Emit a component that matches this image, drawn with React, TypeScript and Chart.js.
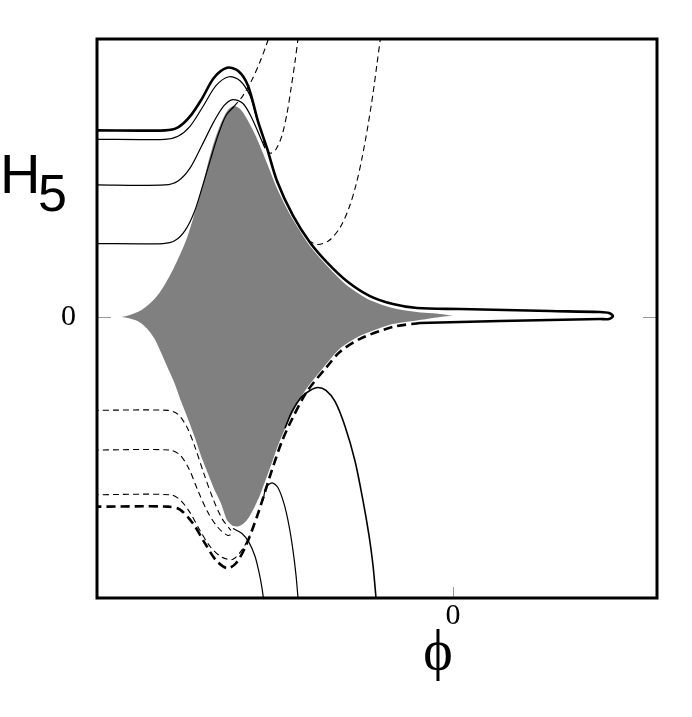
import React, { useEffect, useRef } from "react";
import { Chart, registerables } from "chart.js";

Chart.register(...registerables);

// Axis ranges and ticks
const xRange = [-3.56, 2.04];
const yRange = [-2.83, 2.8];
const xTickValues = [0];
const xTickLabels = ["0"];
const yTickValues = [0];
const yTickLabels = ["0"];
const xAxisTitle = "ϕ";
const yAxisTitleMain = "H";
const yAxisTitleSub = "5";

// Shaded region boundary (upper edge left->right, then lower edge right->left)
const shadedRegion: [number, number][] = [
  [-3.43, 0], [-3.32, 0.01], [-3.22, 0.035], [-3.12, 0.08], [-3.03, 0.15], [-2.95, 0.24],
  [-2.88, 0.35], [-2.81, 0.48], [-2.74, 0.63], [-2.67, 0.8], [-2.61, 0.99], [-2.56, 1.16],
  [-2.51, 1.35], [-2.46, 1.55], [-2.41, 1.73], [-2.36, 1.88], [-2.31, 2.0], [-2.26, 2.09],
  [-2.19, 2.14], [-2.11, 2.09], [-2.04, 1.98], [-1.96, 1.82], [-1.89, 1.65], [-1.83, 1.5],
  [-1.76, 1.32], [-1.68, 1.15], [-1.6, 1.0], [-1.43, 0.73], [-1.26, 0.53], [-1.06, 0.33],
  [-0.83, 0.18], [-0.6, 0.1], [-0.36, 0.06], [-0.13, 0.04], [0.05, 0.01],
  [-0.13, -0.01], [-0.26, -0.03], [-0.6, -0.08], [-0.93, -0.2], [-1.13, -0.33], [-1.26, -0.48],
  [-1.46, -0.73], [-1.61, -1.0], [-1.71, -1.22], [-1.76, -1.35], [-1.83, -1.55], [-1.93, -1.82],
  [-2.03, -2.02], [-2.09, -2.09], [-2.15, -2.12], [-2.21, -2.11], [-2.27, -2.05], [-2.33, -1.88],
  [-2.4, -1.73], [-2.46, -1.58], [-2.53, -1.4], [-2.59, -1.22], [-2.66, -1.03], [-2.73, -0.85],
  [-2.79, -0.68], [-2.86, -0.52], [-2.93, -0.36], [-2.99, -0.23], [-3.07, -0.12], [-3.16, -0.05],
  [-3.28, -0.015], [-3.43, 0],
];

// Thick solid curve (upper, wraps around the tongue)
const thickSolid: [number, number][] = [
  [-3.6, 1.88], [-2.88, 1.88], [-2.75, 1.91], [-2.63, 2.02], [-2.51, 2.2], [-2.39, 2.41],
  [-2.26, 2.51], [-2.15, 2.48], [-2.05, 2.33], [-1.95, 1.97], [-1.86, 1.7], [-1.76, 1.37],
  [-1.6, 1.02], [-1.43, 0.75], [-1.26, 0.55], [-1.06, 0.36], [-0.83, 0.21], [-0.6, 0.13],
  [-0.36, 0.09], [0.07, 0.08], [0.97, 0.06], [1.47, 0.05], [1.56, 0.04], [1.6, 0.01],
  [1.56, -0.02], [1.47, -0.02], [0.47, -0.04], [-0.33, -0.06],
];

// Thick dashed curve (lower)
const thickDashed: [number, number][] = [
  [-0.33, -0.06], [-0.6, -0.1], [-0.93, -0.22], [-1.13, -0.35], [-1.26, -0.5], [-1.46, -0.75],
  [-1.61, -1.03], [-1.71, -1.25], [-1.82, -1.57], [-1.95, -1.98], [-2.07, -2.3], [-2.17, -2.48],
  [-2.26, -2.53], [-2.37, -2.45], [-2.48, -2.28], [-2.6, -2.08], [-2.73, -1.94], [-2.85, -1.91],
  [-3.6, -1.91],
];

// Thin solid curves (upper)
const thinSolid1: [number, number][] = [
  [-3.6, 1.79], [-2.88, 1.79], [-2.75, 1.82], [-2.63, 1.92], [-2.5, 2.12], [-2.37, 2.33],
  [-2.24, 2.42], [-2.13, 2.38], [-2.03, 2.23], [-1.96, 2.0],
];
const thinSolid2: [number, number][] = [
  [-3.6, 1.33], [-2.88, 1.33], [-2.75, 1.37], [-2.63, 1.5], [-2.51, 1.73], [-2.39, 1.97],
  [-2.29, 2.13], [-2.2, 2.19], [-2.1, 2.15], [-2.01, 2.0], [-1.91, 1.77], [-1.88, 1.7],
];
const thinSolid3: [number, number][] = [
  [-3.6, 0.74], [-2.9, 0.74], [-2.78, 0.77], [-2.68, 0.87], [-2.59, 1.05], [-2.51, 1.3],
  [-2.43, 1.57], [-2.35, 1.83], [-2.27, 2.03], [-2.19, 2.12],
];

// Thin dashed curves (upper)
const dashedA: [number, number][] = [
  [-2.19, 2.12], [-2.1, 2.23], [-2.01, 2.39], [-1.93, 2.57], [-1.87, 2.73], [-1.83, 2.85],
];
const dashedB: [number, number][] = [
  [-1.9, 1.77], [-1.83, 1.65], [-1.77, 1.69], [-1.71, 1.83], [-1.66, 2.05], [-1.62, 2.3],
  [-1.58, 2.57], [-1.55, 2.8], [-1.54, 2.87],
];
const dashedC: [number, number][] = [
  [-1.45, 0.77], [-1.35, 0.73], [-1.24, 0.77], [-1.13, 0.9], [-1.04, 1.1], [-0.97, 1.33],
  [-0.91, 1.6], [-0.85, 1.93], [-0.8, 2.25], [-0.76, 2.55], [-0.72, 2.85],
];

// Thin dashed curves (lower)
const lowerDashed1: [number, number][] = [
  [-3.6, -0.94], [-2.85, -0.94], [-2.75, -0.98], [-2.66, -1.11], [-2.58, -1.31], [-2.49, -1.58],
  [-2.4, -1.83], [-2.31, -2.03], [-2.22, -2.15],
];
const lowerDashed2: [number, number][] = [
  [-3.6, -1.34], [-2.83, -1.34], [-2.73, -1.39], [-2.64, -1.53], [-2.55, -1.75], [-2.45, -1.97],
  [-2.35, -2.12], [-2.25, -2.2], [-2.19, -2.17],
];
const lowerDashed3: [number, number][] = [
  [-3.6, -1.79], [-2.83, -1.79], [-2.73, -1.84], [-2.63, -1.97], [-2.53, -2.15], [-2.43, -2.31],
  [-2.31, -2.42], [-2.2, -2.44], [-2.1, -2.33], [-2.03, -2.2],
];

// Thin solid curves (lower)
const lowerSolid1: [number, number][] = [
  [-2.2, -2.13], [-2.11, -2.18], [-2.04, -2.27], [-1.98, -2.41], [-1.94, -2.57], [-1.91, -2.73],
  [-1.88, -2.95],
];
const lowerArch2: [number, number][] = [
  [-1.9, -1.85], [-1.87, -1.72], [-1.81, -1.67], [-1.75, -1.72], [-1.69, -1.88], [-1.64, -2.1],
  [-1.6, -2.35], [-1.57, -2.6], [-1.55, -2.83], [-1.54, -2.95],
];
const lowerArch3: [number, number][] = [
  [-1.68, -1.12], [-1.61, -0.95], [-1.52, -0.81], [-1.43, -0.74], [-1.35, -0.71], [-1.27, -0.74],
  [-1.18, -0.85], [-1.08, -1.1], [-0.98, -1.45], [-0.9, -1.85], [-0.84, -2.2], [-0.8, -2.5],
  [-0.77, -2.83], [-0.76, -2.95],
];

const toPts = (arr: [number, number][]) => arr.map(([x, y]) => ({ x, y }));

function line(data: [number, number][], width: number, dash: number[] = [], tension = 0.3) {
  return {
    data: toPts(data),
    showLine: true,
    borderColor: "#000",
    borderWidth: width,
    borderDash: dash,
    pointRadius: 0,
    pointHoverRadius: 0,
    fill: false,
    tension,
    order: 0,
  };
}

const decorPlugin = {
  id: "decor",
  afterDatasetsDraw(chart: any) {
    const { ctx, chartArea, scales } = chart;
    const { left, right, top, bottom } = chartArea;
    ctx.save();
    // gray inner tick marks
    ctx.strokeStyle = "#999";
    ctx.lineWidth = 1;
    ctx.setLineDash([]);
    yTickValues.forEach((v) => {
      const py = Math.round(scales.y.getPixelForValue(v)) + 0.5;
      ctx.beginPath();
      ctx.moveTo(left, py);
      ctx.lineTo(left + 14, py);
      ctx.moveTo(right - 14, py);
      ctx.lineTo(right, py);
      ctx.stroke();
    });
    xTickValues.forEach((v) => {
      const px = Math.round(scales.x.getPixelForValue(v)) + 0.5;
      ctx.beginPath();
      ctx.moveTo(px, bottom);
      ctx.lineTo(px, bottom - 11);
      ctx.stroke();
    });
    // frame
    ctx.strokeStyle = "#000";
    ctx.lineWidth = 3;
    ctx.strokeRect(left, top, right - left, bottom - top);
    // axis titles
    ctx.fillStyle = "#000";
    ctx.textAlign = "left";
    ctx.textBaseline = "alphabetic";
    ctx.font = "56px 'Liberation Sans', Arial, sans-serif";
    ctx.fillText(yAxisTitleMain, 0, 193);
    ctx.font = "52px 'Liberation Sans', Arial, sans-serif";
    ctx.fillText(yAxisTitleSub, 38, 211);
    ctx.textAlign = "center";
    ctx.font = "56px 'Liberation Serif', 'Times New Roman', serif";
    ctx.fillText(xAxisTitle, 438, 669);
    ctx.restore();
  },
};

export default function App() {
  const ref = useRef<HTMLCanvasElement | null>(null);
  useEffect(() => {
    if (!ref.current) return;
    const tickFont = { family: "Liberation Serif", size: 30 };
    const chart = new Chart(ref.current, {
      type: "scatter",
      data: {
        datasets: [
          {
            data: toPts(shadedRegion),
            showLine: true,
            borderColor: "#fff",
            borderWidth: 2,
            backgroundColor: "#808080",
            fill: "shape",
            pointRadius: 0,
            tension: 0.2,
            order: 10,
          } as any,
          line(thickSolid, 2.6),
          line(thickDashed, 2.6, [9, 5]),
          line(thinSolid1, 1.2),
          line(thinSolid2, 1.2),
          line(thinSolid3, 1.2),
          line(dashedA, 1.1, [6, 4]),
          line(dashedB, 1.1, [6, 4]),
          line(dashedC, 1.1, [6, 4]),
          line(lowerDashed1, 1.1, [6, 4]),
          line(lowerDashed2, 1.1, [6, 4]),
          line(lowerDashed3, 1.1, [6, 4]),
          line(lowerSolid1, 1.2),
          line(lowerArch2, 1.2),
          line(lowerArch3, 1.6),
        ] as any,
      },
      options: {
        animation: false,
        responsive: false,
        devicePixelRatio: 1,
        layout: { padding: { top: 35, right: 35, left: 0, bottom: 0 } },
        plugins: { legend: { display: false }, tooltip: { enabled: false } },
        events: [],
        scales: {
          x: {
            type: "linear",
            position: "bottom",
            min: xRange[0],
            max: xRange[1],
            grid: { display: false, drawTicks: false },
            border: { display: false },
            ticks: {
              font: tickFont,
              color: "#000",
              padding: 0,
              maxRotation: 0,
              autoSkip: false,
              callback: (v: any) => {
                const i = xTickValues.indexOf(Number(v));
                return i >= 0 ? xTickLabels[i] : "";
              },
            },
            afterBuildTicks: (s: any) => {
              s.ticks = xTickValues.map((v) => ({ value: v }));
            },
            afterFit: (s: any) => {
              s.height = 119;
            },
          },
          y: {
            type: "linear",
            position: "left",
            min: yRange[0],
            max: yRange[1],
            grid: { display: false, drawTicks: false },
            border: { display: false },
            ticks: {
              font: tickFont,
              color: "#000",
              padding: 21,
              autoSkip: false,
              callback: (v: any) => {
                const i = yTickValues.indexOf(Number(v));
                return i >= 0 ? yTickLabels[i] : "";
              },
            },
            afterBuildTicks: (s: any) => {
              s.ticks = yTickValues.map((v) => ({ value: v }));
            },
            afterFit: (s: any) => {
              s.width = 97;
            },
          },
        },
      } as any,
      plugins: [decorPlugin],
    });
    return () => chart.destroy();
  }, []);
  return (
    <div style={{ position: "fixed", left: 0, top: 0, width: 692, height: 717, background: "#fff" }}>
      <canvas ref={ref} width={692} height={717} />
    </div>
  );
}
